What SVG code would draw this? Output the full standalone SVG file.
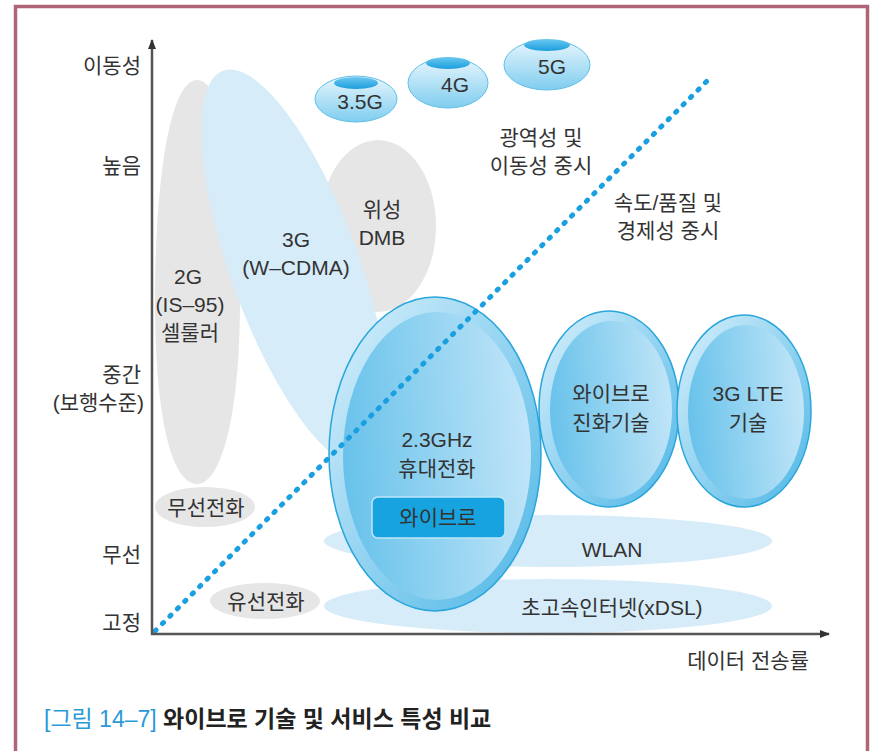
<svg xmlns="http://www.w3.org/2000/svg" width="871" height="751" viewBox="0 0 871 751">
<defs>
<style>
.t{font-family:"Liberation Sans","Noto Sans CJK KR",sans-serif;font-size:21px;fill:#333;text-anchor:middle}
.ax{font-family:"Liberation Sans","Noto Sans CJK KR",sans-serif;font-size:21px;fill:#333;text-anchor:end}
.gray{fill:#e6e6e6}
.lb{fill:#d6ecf9}
.big{stroke:#2aa6dc;stroke-width:1.5}
</style>
<linearGradient id="gBig" x1="0" y1="0" x2="1" y2="0">
<stop offset="0" stop-color="#5cbde9"/>
<stop offset="1" stop-color="#cdeafa"/>
</linearGradient>
<linearGradient id="gRing" x1="0" y1="0" x2="1" y2="1">
<stop offset="0" stop-color="#d8f0fc"/>
<stop offset="1" stop-color="#4db6e6"/>
</linearGradient>
<linearGradient id="gBub" x1="0" y1="0" x2="0" y2="1">
<stop offset="0" stop-color="#e8f6fd"/>
<stop offset="1" stop-color="#7fcdef"/>
</linearGradient>
<linearGradient id="gCap" x1="0" y1="0" x2="0" y2="1">
<stop offset="0" stop-color="#6cc8f0"/>
<stop offset="1" stop-color="#1a9ede"/>
</linearGradient>
<marker id="arr" viewBox="0 0 10 10" refX="9" refY="5" markerWidth="10" markerHeight="10" markerUnits="userSpaceOnUse" orient="auto">
<path d="M0,1 L10,5 L0,9 Z" fill="#333"/>
</marker>
</defs>
<rect width="871" height="751" fill="#fff"/>
<path d="M15.5,760 V6.5 H867.5 V760" fill="none" stroke="#b06478" stroke-width="3.5"/>

<g id="bg-shapes">
<path id="n-2g" class="gray" d="M197,80 C225,80 240,180 240,300 C240,420 220,484 197,484 C172,484 155,420 155,300 C155,180 170,80 197,80 Z"/>
<ellipse id="n-dmb" class="gray" cx="378" cy="226" rx="58" ry="86"/>
<ellipse id="n-3g" class="lb" cx="295" cy="268" rx="64" ry="210" transform="rotate(-20 295 268)"/>
<ellipse id="n-wlan" class="lb" cx="548" cy="541" rx="224" ry="26"/>
<ellipse id="n-xdsl" class="lb" cx="548" cy="606" rx="224" ry="27"/>
<ellipse id="n-wireless" class="gray" cx="205" cy="507" rx="50" ry="20"/>
<ellipse id="n-wired" class="gray" cx="265" cy="601" rx="55" ry="18"/>
</g>

<g id="n-wibro">
<ellipse cx="435" cy="454" rx="106" ry="157" fill="url(#gRing)" class="big"/>
<ellipse cx="437" cy="456" rx="94" ry="144" fill="url(#gBig)" opacity="0.85"/>
<text class="t" x="437" y="447">2.3GHz</text>
<text class="t" x="437" y="476">휴대전화</text>
<rect x="372" y="497" width="133" height="41" rx="6" fill="#17a3df" stroke="#bfe6f7" stroke-width="1.5"/>
<text class="t" x="438" y="525">와이브로</text>
</g>
<g id="n-wibro-evo">
<ellipse cx="609" cy="409" rx="70" ry="98" fill="url(#gRing)" class="big"/>
<ellipse cx="611" cy="410" rx="61" ry="89" fill="url(#gBig)" opacity="0.85"/>
<text class="t" x="611" y="401">와이브로</text>
<text class="t" x="611" y="430">진화기술</text>
</g>
<g id="n-lte">
<ellipse cx="744" cy="411" rx="67" ry="96" fill="url(#gRing)" class="big"/>
<ellipse cx="746" cy="412" rx="58" ry="87" fill="url(#gBig)" opacity="0.85"/>
<text class="t" x="748" y="401">3G LTE</text>
<text class="t" x="748" y="430">기술</text>
</g>

<g id="n-35g">
<ellipse cx="356" cy="99" rx="41" ry="23" fill="url(#gBub)" stroke="#5fbfe8" stroke-width="1"/>
<ellipse cx="356" cy="83" rx="22" ry="6" fill="url(#gCap)"/>
<text class="t" x="360" y="109">3.5G</text>
</g>
<g id="n-4g">
<ellipse cx="448" cy="83" rx="40" ry="25" fill="url(#gBub)" stroke="#5fbfe8" stroke-width="1"/>
<ellipse cx="448" cy="63" rx="22" ry="6" fill="url(#gCap)"/>
<text class="t" x="455" y="92">4G</text>
</g>
<g id="n-5g">
<ellipse cx="547" cy="65" rx="43" ry="25" fill="url(#gBub)" stroke="#5fbfe8" stroke-width="1"/>
<ellipse cx="547" cy="45" rx="23" ry="6" fill="url(#gCap)"/>
<text class="t" x="552" y="74">5G</text>
</g>

<g id="connectors">
<line x1="155" y1="631" x2="708" y2="80" stroke="#1aa0e0" stroke-width="5" stroke-linecap="round" stroke-dasharray="1.5 9"/>
<line x1="152" y1="635" x2="152" y2="40" stroke="#555" stroke-width="2.5" marker-end="url(#arr)"/>
<line x1="151" y1="634" x2="829" y2="634" stroke="#555" stroke-width="2.5" marker-end="url(#arr)"/>
</g>

<g id="labels">
<text class="t" x="188" y="284">2G</text>
<text class="t" x="190" y="312">(IS–95)</text>
<text class="t" x="190" y="340">셀룰러</text>
<text class="t" x="296" y="247">3G</text>
<text class="t" x="296" y="275">(W–CDMA)</text>
<text class="t" x="382" y="217">위성</text>
<text class="t" x="382" y="245">DMB</text>
<text class="t" x="541" y="145">광역성 및</text>
<text class="t" x="541" y="173">이동성 중시</text>
<text class="t" x="668" y="210">속도/품질 및</text>
<text class="t" x="668" y="238">경제성 중시</text>
<text class="t" x="206" y="515">무선전화</text>
<text class="t" x="266" y="609">유선전화</text>
<text class="t" x="612" y="557">WLAN</text>
<text class="t" x="612" y="615">초고속인터넷(xDSL)</text>
</g>

<g id="axis-labels">
<text class="ax" x="141" y="73">이동성</text>
<text class="ax" x="141" y="173">높음</text>
<text class="ax" x="141" y="382">중간</text>
<text class="ax" x="144" y="410">(보행수준)</text>
<text class="ax" x="141" y="562">무선</text>
<text class="ax" x="141" y="630">고정</text>
<text class="ax" x="809" y="668">데이터 전송률</text>
</g>

<g id="caption">
<text x="44" y="727" style="font-family:'Liberation Sans','Noto Sans CJK KR',sans-serif;font-size:23px"><tspan fill="#2a9ad8">[그림 14–7]</tspan><tspan fill="#222" font-weight="bold"> 와이브로 기술 및 서비스 특성 비교</tspan></text>
</g>
</svg>
